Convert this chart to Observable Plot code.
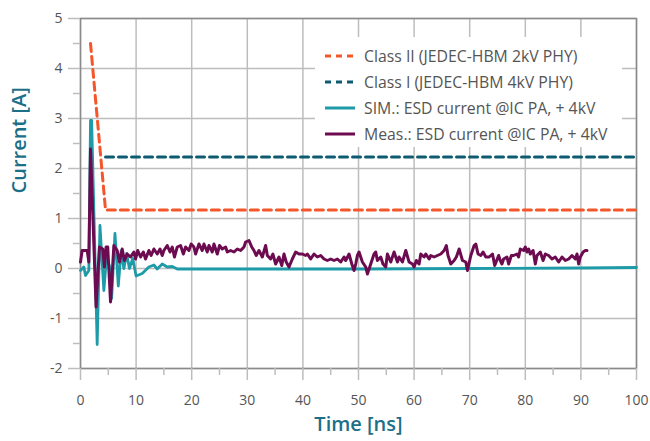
<!DOCTYPE html>
<html>
<head>
<meta charset="utf-8">
<script src="https://cdn.jsdelivr.net/npm/d3@7"></script>
<script src="https://cdn.jsdelivr.net/npm/@observablehq/plot@0.6"></script>
<style>
  body { margin: 0; background: white; }
  #wrap { position: relative; width: 650px; height: 441px; font-family: "Open Sans", sans-serif; }
  #legend { position: absolute; left: 315px; top: 37px; width: 307px; height: 110px; background: white; }
  .row { position: absolute; left: 0; height: 26px; display: flex; align-items: center; font-size: 15.8px; color: #555; white-space: nowrap; }
  .row svg { margin-left: 10px; margin-right: 9px; }
</style>
</head>
<body>
<div id="wrap"></div>
<script>
// ---- data ----
const xTicks = [0, 10, 20, 30, 40, 50, 60, 70, 80, 90, 100];
const xMinorTicks = [5, 15, 25, 35, 45, 55, 65, 75, 85, 95];
const yTicks = [-2, -1, 0, 1, 2, 3, 4, 5];
const yMinorTicks = [-1.5, -0.5, 0.5, 1.5, 2.5, 3.5, 4.5];

const seriesNames = [
  "Class II (JEDEC-HBM 2kV PHY)",
  "Class I (JEDEC-HBM 4kV PHY)",
  "SIM.: ESD current @IC PA, + 4kV",
  "Meas.: ESD current @IC PA, + 4kV"
];
const seriesColors = ["#f4562a", "#0c5b70", "#1f9ba8", "#6c0b4f"];

const classIITime = [1.8, 4.5, 100];
const classIICurrent = [4.5, 1.17, 1.17];
const classITime = [4.5, 100];
const classICurrent = [2.23, 2.23];

const simTime = [0, 0.6, 0.9, 1.5, 1.8, 2.0, 3.0, 3.5, 4.2, 4.7, 5.2, 5.6, 6.2, 6.8, 7.3, 7.8, 8.3, 8.8, 9.4, 10.0, 11.1, 12.3, 13.2, 13.8, 14.7, 15.6, 16.5, 17.4, 18.3, 30, 50, 70, 90, 100];
const simCurrent = [-0.04, 0.03, -0.14, -0.04, 2.96, 2.96, -1.52, 0.86, -0.44, 0.25, 0.05, -0.6, 0.7, -0.35, 0.35, 0.0, 0.3, 0.0, 0.2, -0.15, -0.1, 0.03, 0.07, -0.01, 0.09, 0.03, 0.04, -0.01, -0.01, -0.01, -0.01, 0.0, 0.01, 0.02];

const measTime = [0, 0.3, 1.2, 1.5, 1.8, 2.8, 3.4, 4.0, 4.3, 4.6, 4.9, 5.4, 6.0, 6.6, 7.0, 7.5, 7.9, 8.4, 9.0, 9.6, 9.9,
  10.3, 10.8, 11.3, 11.7, 12.3, 12.7, 13.2, 13.8, 14.3, 14.7, 15.0, 15.6, 16.1, 16.5, 16.9, 17.4, 18.0, 18.5, 18.9, 19.5, 19.9,
  20.4, 20.7, 21.3, 21.9, 22.2, 22.8, 23.1, 23.7, 24.0, 24.6, 25.0, 25.5, 26.1, 26.4, 27.0, 27.6, 28.2, 28.8, 29.4, 29.7,
  30.3, 30.8, 31.2, 31.6, 32.1, 32.7, 33.3, 33.6, 34.2, 34.6, 35.1, 35.7, 36.2, 36.6, 37.0, 37.5, 38.1, 38.7, 39.3, 39.9,
  40.5, 40.8, 41.4, 42.0, 42.6, 43.2, 43.8, 44.4, 45.0, 45.6, 46.2, 46.8, 47.4, 47.7, 48.3, 48.8, 49.2, 49.5, 49.8,
  50.1, 50.7, 51.3, 51.6, 52.2, 52.8, 53.1, 53.4, 54.0, 54.4, 54.9, 55.2, 55.8, 56.4, 57.0, 57.3, 57.9, 58.5, 59.1, 59.7,
  60.0, 60.4, 60.9, 61.2, 61.8, 62.1, 62.7, 63.0, 63.6, 64.2, 64.8, 65.4, 65.8, 66.1, 66.6, 67.2, 67.6, 68.1, 68.7, 69.3, 69.6,
  70.2, 70.8, 71.1, 71.5, 72.0, 72.4, 72.9, 73.5, 74.1, 74.5, 75.2, 75.5, 75.8, 76.1, 76.7, 77.0, 77.5, 77.9, 78.5, 78.8, 79.1, 79.7,
  80.0, 80.3, 80.6, 80.9, 81.4, 81.8, 82.1, 82.7, 83.2, 83.6, 84.2, 84.8, 85.4, 86.0, 86.6, 87.2, 87.8, 88.4, 89.0, 89.3, 89.6, 89.9,
  90.4, 90.8, 91.1];
const measCurrent = [0.13, 0.36, 0.36, 0.13, 2.39, -0.77, 0.43, 0.39, 0.03, 0.43, 0.43, -0.67, 0.46, 0.36, 0.13, 0.39, 0.16, 0.29, 0.23, 0.33, 0.19,
  0.36, 0.23, 0.33, 0.19, 0.36, 0.26, 0.39, 0.29, 0.39, 0.26, 0.36, 0.46, 0.33, 0.43, 0.23, 0.43, 0.46, 0.29, 0.43, 0.36, 0.49,
  0.43, 0.29, 0.49, 0.36, 0.49, 0.33, 0.46, 0.33, 0.49, 0.29, 0.46, 0.39, 0.43, 0.33, 0.36, 0.33, 0.39, 0.36, 0.43, 0.53,
  0.56, 0.43, 0.36, 0.26, 0.36, 0.23, 0.46, 0.26, 0.19, 0.29, 0.09, 0.23, 0.06, 0.29, 0.13, 0.03, 0.19, 0.33, 0.29, 0.29,
  0.26, 0.29, 0.19, 0.29, 0.23, 0.26, 0.19, 0.16, 0.19, 0.16, 0.19, 0.13, 0.23, 0.16, 0.29, 0.09, -0.04, 0.09, 0.26,
  0.33, 0.13, 0.03, -0.11, 0.09, 0.29, 0.33, 0.16, 0.23, 0.09, 0.03, 0.29, 0.13, 0.33, 0.13, 0.23, 0.13, 0.36, 0.13, 0.09,
  0.03, 0.16, 0.09, 0.29, 0.23, 0.29, 0.19, 0.26, 0.23, 0.26, 0.29, 0.36, 0.46, 0.26, 0.09, 0.16, 0.23, 0.39, 0.16, 0.13, -0.04,
  0.26, 0.46, 0.49, 0.29, 0.26, 0.33, 0.23, 0.23, 0.29, 0.06, 0.26, 0.16, 0.09, 0.19, 0.23, 0.09, 0.26, 0.26, 0.29, 0.23, 0.39, 0.36,
  0.43, 0.33, 0.39, 0.29, 0.36, 0.09, 0.26, 0.33, 0.16, 0.29, 0.26, 0.19, 0.23, 0.13, 0.23, 0.16, 0.19, 0.26, 0.19, 0.29, 0.09, 0.23,
  0.33, 0.36, 0.36];

// ---- build ----
const rows = (t, v) => t.map((x, i) => ({t: x, v: v[i]}));
const fmt = d => (d < 0 ? "-" + Math.abs(d) : String(d));
const gridColor = "#bdbdbd";
const axisColor = "#8a8a8a";
const textColor = "#555";
const titleColor = "#1b6f87";

const chart = Plot.plot({
  width: 650,
  height: 441,
  marginLeft: 80,
  marginRight: 14,
  marginTop: 18,
  marginBottom: 73,
  x: {domain: [0, 100]},
  y: {domain: [-2, 5]},
  style: {fontFamily: "Open Sans, sans-serif", background: "white", overflow: "visible"},
  marks: [
    Plot.gridX(xTicks, {stroke: gridColor, strokeOpacity: 1, strokeWidth: 1.5}),
    Plot.gridY(yTicks, {stroke: gridColor, strokeOpacity: 1, strokeWidth: 1.5}),
    Plot.frame({stroke: axisColor, strokeWidth: 1.5}),
    Plot.axisX(xTicks, {tickSize: 12, tickPadding: 15, stroke: gridColor, strokeWidth: 1.5, fill: textColor, fontSize: 14, tickFormat: fmt, label: null}),
    Plot.axisX(xMinorTicks, {tickSize: 7, stroke: gridColor, strokeWidth: 1.5, text: null, label: null}),
    Plot.axisY(yTicks, {tickSize: 12, tickPadding: 6, stroke: gridColor, strokeWidth: 1.5, fill: textColor, fontSize: 14, tickFormat: fmt, label: null}),
    Plot.axisY(yMinorTicks, {tickSize: 7, stroke: gridColor, strokeWidth: 1.5, text: null, label: null}),
    Plot.text(["Time [ns]"], {frameAnchor: "bottom", dy: 62, fontSize: 20, fontWeight: 600, fill: titleColor}),
    Plot.text(["Current [A]"], {frameAnchor: "left", dx: -61, rotate: -90, fontSize: 20, fontWeight: 600, fill: titleColor}),
    Plot.line(rows(classIITime, classIICurrent), {x: "t", y: "v", stroke: seriesColors[0], strokeWidth: 3, strokeDasharray: "8 5"}),
    Plot.line(rows(classITime, classICurrent), {x: "t", y: "v", stroke: seriesColors[1], strokeWidth: 3, strokeDasharray: "8 5"}),
    Plot.line(rows(simTime, simCurrent), {x: "t", y: "v", stroke: seriesColors[2], strokeWidth: 2.8}),
    Plot.line(rows(measTime, measCurrent), {x: "t", y: "v", stroke: seriesColors[3], strokeWidth: 3})
  ]
});

const wrap = document.getElementById("wrap");
wrap.appendChild(chart);

// legend
const legend = document.createElement("div");
legend.id = "legend";
seriesNames.forEach((name, i) => {
  const row = document.createElement("div");
  row.className = "row";
  row.style.top = (6 + i * 26) + "px";
  const dash = i < 2 ? 'stroke-dasharray="6 5"' : "";
  row.innerHTML = `<svg width="30" height="6"><line x1="0" y1="3" x2="30" y2="3" stroke="${seriesColors[i]}" stroke-width="3" ${dash}/></svg><span>${name}</span>`;
  legend.appendChild(row);
});
wrap.appendChild(legend);
</script>
</body>
</html>
